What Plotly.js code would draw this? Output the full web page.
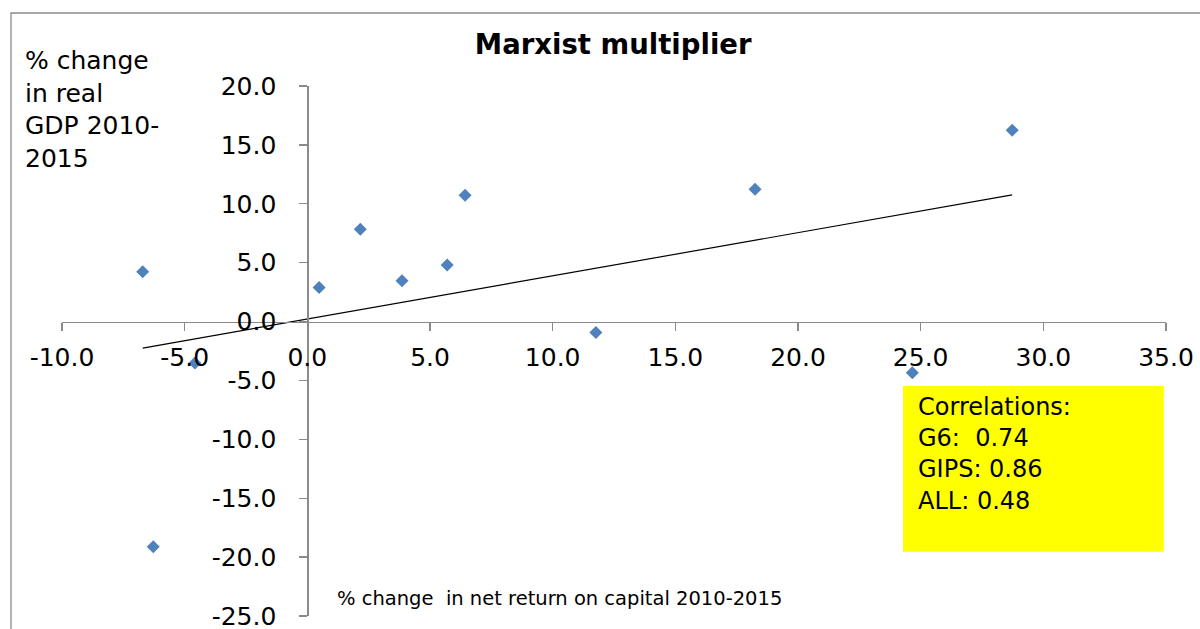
<!DOCTYPE html>
<html>
<head>
<meta charset="utf-8">
<script src="https://cdn.plot.ly/plotly-3.0.1.min.js"></script>
<style>html,body{margin:0;padding:0;background:#fff;}#chart{width:1200px;height:629px;}</style>
</head>
<body>
<div id="chart"></div>
<script>
// % change in net return on capital 2010-2015
const capitalReturn = [-6.71, -4.58, -6.28, 0.48, 2.16, 3.86, 5.70, 6.43, 11.76, 18.25, 24.66, 28.73];
// % change in real GDP 2010-2015
const realGdp = [4.22, -3.51, -19.13, 2.89, 7.84, 3.46, 4.81, 10.73, -0.93, 11.24, -4.35, 16.25];

const xTickVals = [-10, -5, 0, 5, 10, 15, 20, 25, 30, 35];
const xTickText = ["-10.0", "-5.0", "0.0", "5.0", "10.0", "15.0", "20.0", "25.0", "30.0", "35.0"];
const yTickVals = [-25, -20, -15, -10, -5, 0, 5, 10, 15, 20];
const yTickText = ["-25.0", "-20.0", "-15.0", "-10.0", "-5.0", "0.0", "5.0", "10.0", "15.0", "20.0"];

const correlationLines = ["Correlations:", "G6:&nbsp; 0.74", "GIPS: 0.86", "ALL: 0.48"];

// linear trendline (least squares) fitted to the data
const n = capitalReturn.length;
const mx = capitalReturn.reduce((a, b) => a + b, 0) / n;
const my = realGdp.reduce((a, b) => a + b, 0) / n;
let sxy = 0, sxx = 0;
for (let i = 0; i < n; i++) {
  sxy += (capitalReturn[i] - mx) * (realGdp[i] - my);
  sxx += (capitalReturn[i] - mx) ** 2;
}
const slope = sxy / sxx;
const intercept = my - slope * mx;
const xMin = Math.min(...capitalReturn), xMax = Math.max(...capitalReturn);
const trendX = [xMin, xMax];
const trendY = trendX.map(v => intercept + slope * v);

const FONT = "DejaVu Sans, sans-serif";
const AXC = "#8a8a8a";

const data = [
  {
    x: trendX, y: trendY, type: "scatter", mode: "lines",
    line: {color: "#000000", width: 1.2}, hoverinfo: "skip", showlegend: false
  },
  {
    x: capitalReturn, y: realGdp, type: "scatter", mode: "markers",
    marker: {symbol: "diamond", size: 10, color: "#4F81BD", line: {width: 0}},
    showlegend: false, cliponaxis: false
  }
];

const layout = {
  width: 1200, height: 629,
  margin: {l: 62, r: 34, t: 86, b: 13},
  paper_bgcolor: "#ffffff", plot_bgcolor: "rgba(0,0,0,0)",
  showlegend: false,
  font: {family: FONT, color: "#000000"},
  title: {
    text: "<b>Marxist multiplier</b>",
    font: {family: FONT, size: 27.5, color: "#000000"},
    x: 0.511, xanchor: "center", y: 0.93, yanchor: "middle"
  },
  xaxis: {
    range: [-10, 35], anchor: "free", position: 25 / 45,
    showgrid: false, zeroline: false,
    showline: true, linecolor: AXC, linewidth: 1.3,
    ticks: "outside", ticklen: 8, tickcolor: AXC, tickwidth: 1.3,
    tickvals: xTickVals, ticktext: xTickText,
    tickfont: {family: FONT, size: 25, color: "#000000"},
    ticklabelstandoff: 5, ticklabeloverflow: "allow"
  },
  yaxis: {
    range: [-25, 20], anchor: "free", position: 10 / 45,
    showgrid: false, zeroline: false,
    showline: true, linecolor: AXC, linewidth: 1.3,
    ticks: "outside", ticklen: 8, tickcolor: AXC, tickwidth: 1.3,
    tickvals: yTickVals, ticktext: yTickText,
    tickfont: {family: FONT, size: 25, color: "#000000"},
    ticklabelstandoff: 18, ticklabeloverflow: "allow"
  },
  shapes: [
    {type: "rect", xref: "paper", yref: "paper", x0: -0.0462, x1: 1.1, y0: -0.2, y1: 1.1377,
     line: {color: "#8a8a8a", width: 1.3}, fillcolor: "rgba(0,0,0,0)", layer: "below"},
    {type: "rect", xref: "x", yref: "y", x0: 24.28, x1: 34.91, y0: -19.55, y1: -5.48,
     line: {width: 0}, fillcolor: "#FFFF00", layer: "below"}
  ],
  annotations: [
    {text: "% change<br>in real<br>GDP 2010-<br>2015", xref: "paper", yref: "paper",
     x: -0.0353, xanchor: "left", y: 0.955, yanchor: "middle", align: "left", showarrow: false,
     font: {family: FONT, size: 25, color: "#000000"}},
    {text: "% change&nbsp; in net return on capital 2010-2015", xref: "paper", yref: "paper",
     x: 0.4502, xanchor: "center", y: 0.033, yanchor: "middle", showarrow: false,
     font: {family: FONT, size: 19.5, color: "#000000"}},
    {text: correlationLines.join("<br>"), xref: "x", yref: "y",
     x: 24.8, xanchor: "left", y: -5.9, yanchor: "top", align: "left", showarrow: false,
     font: {family: FONT, size: 24, color: "#000000"}}
  ]
};

Plotly.newPlot("chart", data, layout, {displayModeBar: false, staticPlot: true});
</script>
</body>
</html>
